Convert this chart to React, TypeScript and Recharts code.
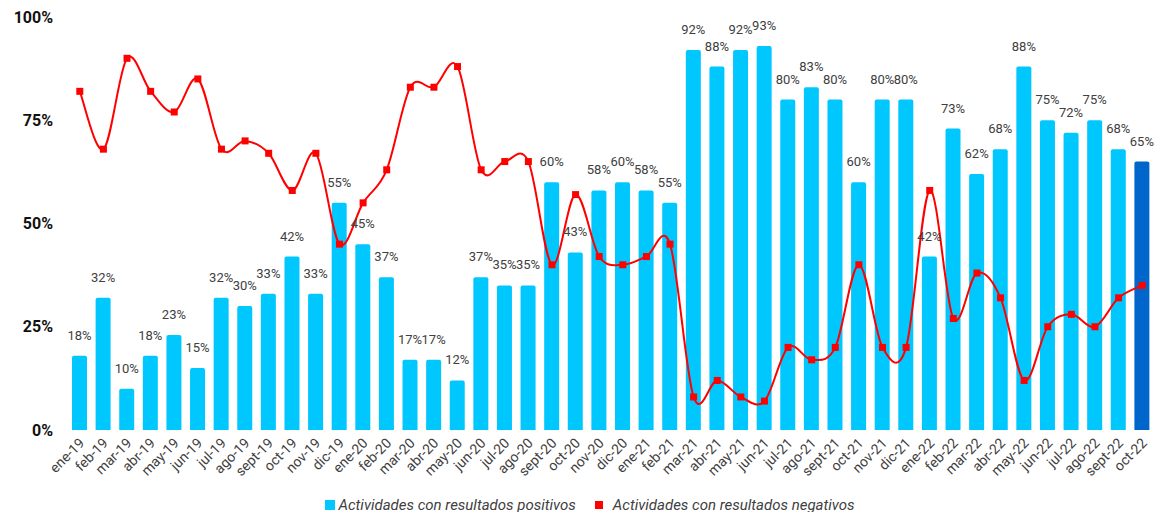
import React from 'react';
import { ComposedChart, Bar, Line, XAxis, YAxis, Legend, LabelList, Cell } from 'recharts';

const months = [
  'ene-19', 'feb-19', 'mar-19', 'abr-19', 'may-19', 'jun-19', 'jul-19', 'ago-19', 'sept-19', 'oct-19', 'nov-19', 'dic-19',
  'ene-20', 'feb-20', 'mar-20', 'abr-20', 'may-20', 'jun-20', 'jul-20', 'ago-20', 'sept-20', 'oct-20', 'nov-20', 'dic-20',
  'ene-21', 'feb-21', 'mar-21', 'abr-21', 'may-21', 'jun-21', 'jul-21', 'ago-21', 'sept-21', 'oct-21', 'nov-21', 'dic-21',
  'ene-22', 'feb-22', 'mar-22', 'abr-22', 'may-22', 'jun-22', 'jul-22', 'ago-22', 'sept-22', 'oct-22',
];

const positivos = [
  18, 32, 10, 18, 23, 15, 32, 30, 33, 42, 33, 55,
  45, 37, 17, 17, 12, 37, 35, 35, 60, 43, 58, 60,
  58, 55, 92, 88, 92, 93, 80, 83, 80, 60, 80, 80,
  42, 73, 62, 68, 88, 75, 72, 75, 68, 65,
];

const negativos = [
  82, 68, 90, 82, 77, 85, 68, 70, 67, 58, 67, 45,
  55, 63, 83, 83, 88, 63, 65, 65, 40, 57, 42, 40,
  42, 45, 8, 12, 8, 7, 20, 17, 20, 40, 20, 20,
  58, 27, 38, 32, 12, 25, 28, 25, 32, 35,
];

const yTicks = [0, 25, 50, 75, 100];

const seriesNames = ['Actividades con resultados positivos', 'Actividades con resultados negativos'];

const data = months.map((m, i) => ({ month: m, pos: positivos[i], neg: negativos[i] }));

const CYAN = '#00C8FF';
const DARK = '#0066CC';
const RED = '#FF0000';
const TEXT = '#404040';

const CHART_H = 512;
const PLOT_BOTTOM = 430;

// Excel-like smooth curve (Catmull-Rom with 1/6 control points)
function excelCurve(context: any) {
  let pts: number[][] = [];
  return {
    areaStart() {},
    areaEnd() {},
    lineStart() {
      pts = [];
    },
    lineEnd() {
      if (!pts.length) return;
      context.moveTo(pts[0][0], pts[0][1]);
      for (let i = 0; i < pts.length - 1; i++) {
        const p0 = pts[i - 1] || pts[i];
        const p1 = pts[i];
        const p2 = pts[i + 1];
        const p3 = pts[i + 2] || pts[i + 1];
        context.bezierCurveTo(
          p1[0] + (p2[0] - p0[0]) / 6,
          p1[1] + (p2[1] - p0[1]) / 6,
          p2[0] - (p3[0] - p1[0]) / 6,
          p2[1] - (p3[1] - p1[1]) / 6,
          p2[0],
          p2[1]
        );
      }
    },
    point(x: number, y: number) {
      pts.push([x, y]);
    },
  };
}

const SquareDot = (props: any) => {
  const { cx, cy } = props;
  if (cx == null || cy == null) return null;
  return <rect x={cx - 3.5} y={cy - 3.5} width={7} height={7} fill={RED} />;
};

const XTick = (props: any) => {
  const { x, payload } = props;
  return (
    <g transform={`translate(${x + 5.5},${PLOT_BOTTOM + 14})`}>
      <text
        x={0}
        y={0}
        textAnchor="end"
        transform="rotate(-45)"
        fontSize={14}
        fontFamily="Roboto"
        fill={TEXT}
      >
        {payload.value}
      </text>
    </g>
  );
};

const LegendContent = () => (
  <div
    style={{
      display: 'flex',
      justifyContent: 'center',
      alignItems: 'center',
      height: 14,
      paddingLeft: 26,
      fontFamily: 'Roboto',
      fontStyle: 'italic',
      fontSize: 15,
      color: TEXT,
      lineHeight: '14px',
    }}
  >
    <span style={{ width: 10, height: 10, background: CYAN, display: 'inline-block', marginRight: 3 }} />
    <span>{seriesNames[0]}</span>
    <span style={{ width: 8, height: 8, background: RED, display: 'inline-block', marginLeft: 19, marginRight: 10 }} />
    <span>{seriesNames[1]}</span>
  </div>
);

export default function App() {
  return (
    <div style={{ position: 'absolute', left: 0, top: 0, width: 1154, height: CHART_H, background: '#fff' }}>
      <ComposedChart
        width={1154}
        height={CHART_H}
        data={data}
        margin={{ top: 17, right: 0, left: 0, bottom: 0 }}
        barCategoryGap={4}
      >
        <XAxis
          dataKey="month"
          interval={0}
          axisLine={false}
          tickLine={false}
          height={68}
          tick={<XTick />}
        />
        <YAxis
          domain={[0, 100]}
          ticks={yTicks}
          tickFormatter={(v: number) => `${v}%`}
          axisLine={false}
          tickLine={false}
          width={68}
          tickMargin={9}
          tick={{ fontSize: 16, fontWeight: 'bold', fill: '#111', fontFamily: 'Roboto' }}
        />
        <Legend
          verticalAlign="bottom"
          content={<LegendContent />}
          wrapperStyle={{ left: 0, width: 1154, height: 14 }}
        />
        <Bar dataKey="pos" name={seriesNames[0]} fill={CYAN} barSize={15} radius={[2, 2, 0, 0]} isAnimationActive={false}>
          {data.map((d, i) => (
            <Cell key={d.month} fill={i === data.length - 1 ? DARK : CYAN} />
          ))}
          <LabelList
            dataKey="pos"
            position="top"
            offset={16}
            formatter={(v: any) => `${v}%`}
            style={{ fontSize: 13, fill: TEXT, fontFamily: 'Roboto' }}
          />
        </Bar>
        <Line
          dataKey="neg"
          name={seriesNames[1]}
          type={excelCurve as any}
          stroke={RED}
          strokeWidth={2}
          dot={<SquareDot />}
          activeDot={false}
          isAnimationActive={false}
        />
      </ComposedChart>
    </div>
  );
}
